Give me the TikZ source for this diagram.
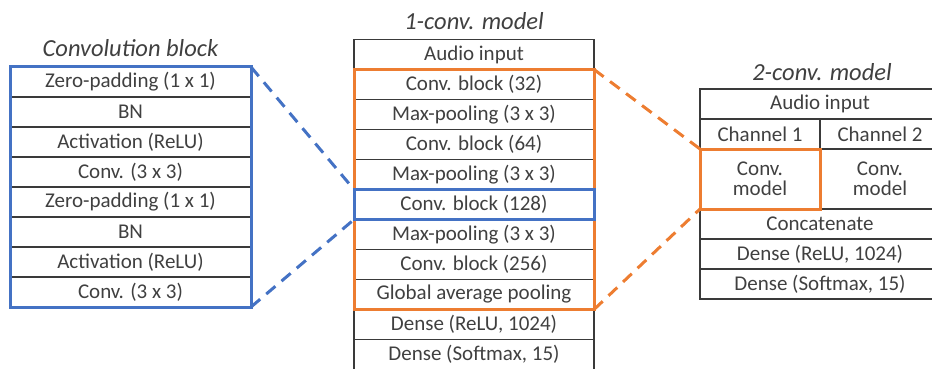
\documentclass[tikz,border=0pt]{standalone}
\usepackage{fontspec}
\setmainfont{Carlito}
\usetikzlibrary{positioning}
\definecolor{txtGray}{HTML}{404040}
\definecolor{lineGray}{HTML}{3A3A3A}
\definecolor{blockBlue}{HTML}{4472C4}
\definecolor{blockOrange}{HTML}{ED7D31}
\tikzset{
    layer/.style={draw=lineGray, line width=1.4pt, text=txtGray, minimum width=241pt, minimum height=30pt,
        inner sep=0pt, outer sep=0pt, align=center, font=\fontsize{21}{20}\selectfont},
    halflayer/.style={layer, minimum width=120pt},
    title/.style={text=txtGray, font=\fontsize{24.5}{26}\selectfont\itshape},
    blueframe/.style={draw=blockBlue, line width=3pt},
    orangeframe/.style={draw=blockOrange, line width=3pt},
    bluelink/.style={blockBlue, line width=3pt, dash pattern=on 12pt off 8pt},
    orangelink/.style={blockOrange, line width=3pt, dash pattern=on 12pt off 8pt}
}

\begin{document}
\begin{tikzpicture}[x=1pt, y=-1pt]
        \useasboundingbox (0,0) rectangle (932,369);

        % convolution block
        \node[title] at (130.5, 48) {Convolution block};
        \node[layer] (zp1) at (130.5, 82) {Zero-padding (1 x 1)};
        \node[layer, below=0pt of zp1] (bn1) {BN};
        \node[layer, below=0pt of bn1] (act1) {Activation (ReLU)};
        \node[layer, below=0pt of act1] (cv1) {Conv. (3 x 3)};
        \node[layer, below=0pt of cv1] (zp2) {Zero-padding (1 x 1)};
        \node[layer, below=0pt of zp2] (bn2) {BN};
        \node[layer, below=0pt of bn2] (act2) {Activation (ReLU)};
        \node[layer, below=0pt of act2] (cv2) {Conv. (3 x 3)};

        % 1-conv. model
        \node[title] at (474, 21) {1-conv. model};
        \node[layer, minimum width=240pt] (in1) at (474, 54.5) {Audio input};
        \node[layer, minimum width=240pt, below=0pt of in1] (c32) {Conv. block (32)};
        \node[layer, minimum width=240pt, below=0pt of c32] (mp1) {Max-pooling (3 x 3)};
        \node[layer, minimum width=240pt, below=0pt of mp1] (c64) {Conv. block (64)};
        \node[layer, minimum width=240pt, below=0pt of c64] (mp2) {Max-pooling (3 x 3)};
        \node[layer, minimum width=240pt, below=0pt of mp2] (c128) {Conv. block (128)};
        \node[layer, minimum width=240pt, below=0pt of c128] (mp3) {Max-pooling (3 x 3)};
        \node[layer, minimum width=240pt, below=0pt of mp3] (c256) {Conv. block (256)};
        \node[layer, minimum width=240pt, below=0pt of c256] (gap) {Global average pooling};
        \node[layer, minimum width=240pt, below=0pt of gap] (relu1) {Dense (ReLU, 1024)};
        \node[layer, minimum width=240pt, below=0pt of relu1] (soft1) {Dense (Softmax, 15)};

        % 2-conv. model
        \node[title] at (822, 72) {2-conv. model};
        \node[layer, minimum width=240pt] (in2) at (820, 104) {Audio input};
        \node[halflayer] (ch1) at (760, 134) {Channel 1};
        \node[halflayer, right=0pt of ch1] (ch2) {Channel 2};
        \node[halflayer, minimum height=60pt, below=0pt of ch1] (cm1) {Conv.\\model};
        \node[halflayer, minimum height=60pt, below=0pt of ch2] (cm2) {Conv.\\model};
        \node[layer, minimum width=240pt, below=0pt of cm1.south east] (cat) {Concatenate};
        \node[layer, minimum width=240pt, below=0pt of cat] (relu2) {Dense (ReLU, 1024)};
        \node[layer, minimum width=240pt, below=0pt of relu2] (soft2) {Dense (Softmax, 15)};

        % highlight frames
        \draw[blueframe] (zp1.north west) rectangle (cv2.south east);
        \draw[orangeframe] (c32.north west) rectangle (gap.south east);
        \draw[orangeframe] (cm1.north west) rectangle (cm1.south east);
        \draw[blueframe] (c128.north west) rectangle (c128.south east);

        % zoom links
        \draw[bluelink] (zp1.north east) -- (c128.north west);
        \draw[bluelink] (cv2.south east) -- (c128.south west);
        \draw[orangelink] (c32.north east) -- (cm1.north west);
        \draw[orangelink] (gap.south east) -- (cm1.south west);
    \end{tikzpicture}
\end{document}
